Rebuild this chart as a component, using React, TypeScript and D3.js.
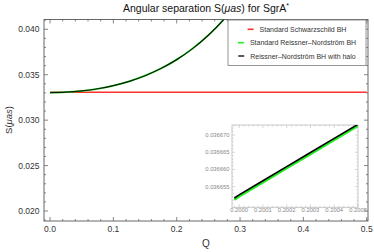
import React, { useEffect, useRef } from 'react';
import * as d3 from 'd3';

// main plot values
const qValues = [0, 0.025, 0.05, 0.075, 0.1, 0.125, 0.15, 0.175, 0.2, 0.225, 0.25, 0.275, 0.3];
const haloS = [0.03303, 0.033075, 0.033214, 0.033452, 0.0338, 0.034273, 0.034891, 0.035678, 0.03666, 0.037871, 0.039348, 0.04113, 0.043264];
const rnS = [0.03303, 0.033075, 0.033214, 0.033452, 0.0338, 0.034273, 0.034891, 0.035678, 0.03666, 0.037871, 0.039348, 0.04113, 0.043264];
const schwQ = [0, 0.5];
const schwS = [0.03308, 0.03308];

// inset (zoom around Q = 0.2)
const insetQ = [0.19998, 0.2, 0.2001, 0.2002, 0.2003, 0.2004, 0.2005];
const insetHalo = [0.0366517, 0.0366526, 0.0366567, 0.0366608, 0.0366649, 0.036669, 0.0366731];
const insetRN = [0.0366512, 0.0366521, 0.0366562, 0.0366603, 0.0366644, 0.0366685, 0.0366726];

const xTicks = [0, 0.1, 0.2, 0.3, 0.4, 0.5];
const yTicks = [0.02, 0.025, 0.03, 0.035, 0.04];
const insetXTicks = [0.2, 0.2001, 0.2002, 0.2003, 0.2004, 0.2005];
const insetYTicks = [0.036655, 0.03666, 0.036665, 0.03667];

const legendItems = [
  { label: 'Standard Schwarzschild BH', color: '#ff3030' },
  { label: 'Standard Reissner\u2013Nordstr\u00f6m BH', color: '#22ee22' },
  { label: 'Reissner\u2013Nordstr\u00f6m BH with halo', color: '#333333' },
];

const FONT = 'Liberation Sans, Arial, sans-serif';

export default function App() {
  const ref = useRef<SVGSVGElement>(null);

  useEffect(() => {
    const svg = d3.select(ref.current);
    svg.selectAll('*').remove();

    const left = 44, right = 368, top = 19.5, bottom = 221;
    const x = d3.scaleLinear().domain([-0.0095, 0.502]).range([left, right]);
    const y = d3.scaleLinear().domain([0.018902, 0.041076]).range([bottom, top]);

    const defs = svg.append('defs');
    defs.append('clipPath').attr('id', 'clipMain')
      .append('rect').attr('x', left).attr('y', top).attr('width', right - left).attr('height', bottom - top);

    // title
    const title = svg.append('text').attr('x', 206).attr('y', 12).attr('text-anchor', 'middle')
      .attr('font-family', FONT).attr('font-size', 10.5).attr('fill', '#111');
    title.append('tspan').text('Angular separation S(');
    title.append('tspan').attr('font-style', 'italic').text('\u03bcas');
    title.append('tspan').text(') for SgrA');
    title.append('tspan').attr('font-size', 7).attr('dy', -4).text('*');

    // frame + ticks
    const axisColor = '#666';
    svg.append('rect').attr('x', left).attr('y', top).attr('width', right - left).attr('height', bottom - top)
      .attr('fill', 'none').attr('stroke', axisColor).attr('stroke-width', 1);

    const xMinor = d3.range(0, 0.5001, 0.02);
    const yMinor = d3.range(0.019, 0.0411, 0.001);
    const g = svg.append('g').attr('stroke', axisColor).attr('stroke-width', 0.8);
    xMinor.forEach((v) => {
      const major = xTicks.some((t) => Math.abs(t - v) < 1e-9);
      const len = major ? 4 : 2;
      g.append('line').attr('x1', x(v)).attr('x2', x(v)).attr('y1', bottom).attr('y2', bottom - len);
      g.append('line').attr('x1', x(v)).attr('x2', x(v)).attr('y1', top).attr('y2', top + len);
    });
    yMinor.forEach((v) => {
      const major = yTicks.some((t) => Math.abs(t - v) < 1e-9);
      const len = major ? 4 : 2;
      g.append('line').attr('x1', left).attr('x2', left + len).attr('y1', y(v)).attr('y2', y(v));
      g.append('line').attr('x1', right).attr('x2', right - len).attr('y1', y(v)).attr('y2', y(v));
    });

    svg.append('g').selectAll('text').data(xTicks).join('text')
      .attr('x', (d) => x(d)).attr('y', 231.5).attr('text-anchor', 'middle')
      .attr('font-family', FONT).attr('font-size', 8.5).attr('fill', '#333')
      .text((d) => d3.format('.1f')(d));
    svg.append('g').selectAll('text').data(yTicks).join('text')
      .attr('x', 39.5).attr('y', (d) => y(d) + 3).attr('text-anchor', 'end')
      .attr('font-family', FONT).attr('font-size', 8.5).attr('fill', '#333')
      .text((d) => d3.format('.3f')(d));

    svg.append('text').attr('x', 206).attr('y', 247).attr('text-anchor', 'middle')
      .attr('font-family', FONT).attr('font-size', 10).attr('fill', '#333').text('Q');
    const yl = svg.append('text').attr('transform', 'translate(12,120) rotate(-90)').attr('text-anchor', 'middle')
      .attr('font-family', FONT).attr('font-size', 9.5).attr('fill', '#333');
    yl.append('tspan').text('S(');
    yl.append('tspan').attr('font-style', 'italic').text('\u03bcas');
    yl.append('tspan').text(')');

    // curves
    const plot = svg.append('g').attr('clip-path', 'url(#clipMain)');
    const pts = (qs: number[], ss: number[]) => qs.map((q, i) => [x(q), y(ss[i])] as [number, number]);
    const smooth = d3.line().curve(d3.curveCatmullRom);
    plot.append('path').attr('d', d3.line()(pts(schwQ, schwS)))
      .attr('fill', 'none').attr('stroke', legendItems[0].color).attr('stroke-width', 1.5);
    plot.append('path').attr('d', smooth(pts(qValues, rnS)))
      .attr('fill', 'none').attr('stroke', legendItems[1].color).attr('stroke-width', 1.8);
    plot.append('path').attr('d', smooth(pts(qValues, haloS)))
      .attr('fill', 'none').attr('stroke', '#0a1a0a').attr('stroke-width', 1.2);

    // legend
    const lg = svg.append('g');
    lg.append('rect').attr('x', 228).attr('y', 20).attr('width', 138).attr('height', 45.5)
      .attr('fill', '#fff').attr('stroke', '#888').attr('stroke-width', 0.9);
    const rowY = [29.3, 42.7, 56];
    legendItems.forEach((item, i) => {
      const t = lg.append('text').attr('y', rowY[i] + 2.5).attr('font-family', FONT).attr('font-size', 7)
        .attr('fill', '#333').text(item.label);
      const w = (t.node() as SVGTextElement).getComputedTextLength();
      const x0 = 297 - (12 + w) / 2;
      t.attr('x', x0 + 12);
      lg.append('line').attr('x1', x0).attr('x2', x0 + 6).attr('y1', rowY[i]).attr('y2', rowY[i])
        .attr('stroke', item.color).attr('stroke-width', 1.6);
    });

    // inset
    const il = 232, ir = 358, it = 125, ib = 207.3;
    const ix = d3.scaleLinear().domain([0.19997, 0.2005]).range([il, ir]);
    const iy = d3.scaleLinear().domain([0.036649, 0.0366729]).range([ib, it]);
    defs.append('clipPath').attr('id', 'clipInset')
      .append('rect').attr('x', il).attr('y', it).attr('width', ir - il).attr('height', ib - it);
    const ins = svg.append('g');
    ins.append('rect').attr('x', il).attr('y', it).attr('width', ir - il).attr('height', ib - it)
      .attr('fill', '#fff').attr('stroke', '#bbb').attr('stroke-width', 0.8);
    const ig = ins.append('g').attr('stroke', '#bbb').attr('stroke-width', 0.6);
    d3.range(0.19998, 0.20051, 0.00002).forEach((v) => {
      const major = insetXTicks.some((t) => Math.abs(t - v) < 1e-9);
      const len = major ? 3 : 1.5;
      ig.append('line').attr('x1', ix(v)).attr('x2', ix(v)).attr('y1', ib).attr('y2', ib - len);
      ig.append('line').attr('x1', ix(v)).attr('x2', ix(v)).attr('y1', it).attr('y2', it + len);
    });
    d3.range(0.03665, 0.0366725, 0.000001).forEach((v) => {
      const major = insetYTicks.some((t) => Math.abs(t - v) < 1e-10);
      const len = major ? 3 : 1.5;
      ig.append('line').attr('x1', il).attr('x2', il + len).attr('y1', iy(v)).attr('y2', iy(v));
      ig.append('line').attr('x1', ir).attr('x2', ir - len).attr('y1', iy(v)).attr('y2', iy(v));
    });
    ins.append('g').selectAll('text').data(insetXTicks).join('text')
      .attr('x', (d) => ix(d)).attr('y', 212).attr('text-anchor', 'middle')
      .attr('font-family', FONT).attr('font-size', 5.8).attr('fill', '#888')
      .text((d) => d3.format('.4f')(d));
    ins.append('g').selectAll('text').data(insetYTicks).join('text')
      .attr('x', 229.5).attr('y', (d) => iy(d) + 2).attr('text-anchor', 'end')
      .attr('font-family', FONT).attr('font-size', 5.8).attr('fill', '#888')
      .text((d) => d3.format('.6f')(d));
    const ipts = (ss: number[]) => insetQ.map((q, i) => [ix(q), iy(ss[i])] as [number, number]);
    const ic = ins.append('g').attr('clip-path', 'url(#clipInset)');
    ic.append('path').attr('d', d3.line()(ipts(insetRN)))
      .attr('fill', 'none').attr('stroke', '#22ee22').attr('stroke-width', 2.2);
    ic.append('path').attr('d', d3.line()(ipts(insetHalo)))
      .attr('fill', 'none').attr('stroke', '#000').attr('stroke-width', 1.6);
  }, []);

  return (
    <svg ref={ref} width={374} height={252} style={{ position: 'absolute', left: 0, top: 0, background: '#fff' }} />
  );
}
